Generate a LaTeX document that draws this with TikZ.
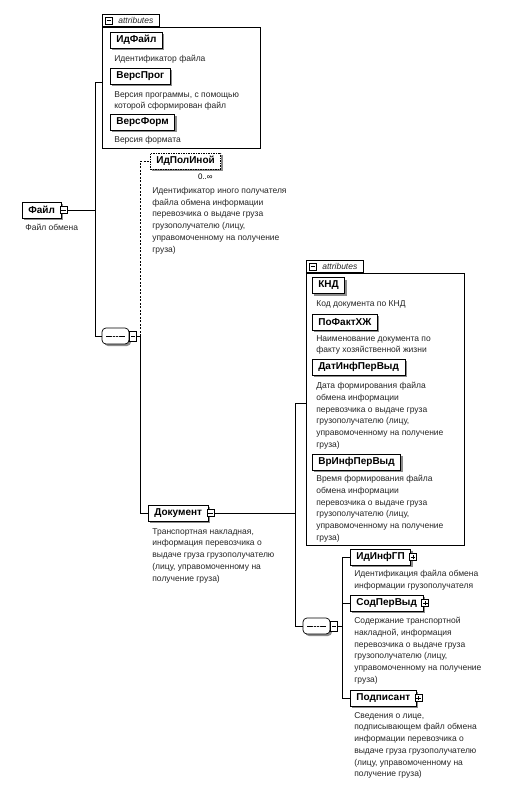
\documentclass[tikz,border=0pt]{standalone}
\usepackage{fontspec}
\setmainfont{Liberation Sans}
\usetikzlibrary{shadows}

\begin{document}
\begin{tikzpicture}[x=1pt, y=-1pt, line width=0.7pt]

\tikzstyle{elem}=[draw, fill=white, anchor=west, minimum height=16pt, inner xsep=6pt, inner ysep=0pt, font=\fontsize{10}{11}\selectfont\bfseries, drop shadow={shadow xshift=2pt, shadow yshift=-2pt, fill=black!45, opacity=1}]
\tikzstyle{optelem}=[elem, dash pattern=on 1.5pt off 1pt]
\tikzstyle{descr}=[anchor=north west, align=left, inner sep=0pt, text=black!85, font=\fontsize{8.5}{11.7}\selectfont]
\tikzstyle{minus}=[draw, fill=white, minimum size=7pt, inner sep=0pt, line width=0.5pt, path picture={\draw[line width=0.5pt] ([xshift=1.2pt]path picture bounding box.west) -- ([xshift=-1.2pt]path picture bounding box.east);}]
\tikzstyle{plus}=[minus, path picture={\draw[line width=0.5pt] ([xshift=1.2pt]path picture bounding box.west) -- ([xshift=-1.2pt]path picture bounding box.east) ([yshift=1.2pt]path picture bounding box.south) -- ([yshift=-1.2pt]path picture bounding box.north);}]
\tikzstyle{seqicon}=[minus, minimum width=7pt, minimum height=10pt]
\tikzstyle{seq}=[draw, fill=white, rounded corners=4pt, minimum width=27pt, minimum height=16pt, inner sep=0pt, drop shadow={shadow xshift=2pt, shadow yshift=-2pt, fill=black!45, opacity=1}, path picture={\draw ([xshift=4pt]path picture bounding box.west) -- ([xshift=-4pt]path picture bounding box.east); \foreach \d in {-3,0,3} \fill ([xshift=\d pt]path picture bounding box.center) circle (0.9pt);}]
\tikzstyle{attrbox}=[draw, fill=white, anchor=north west, minimum width=158pt, inner sep=0pt]
\tikzstyle{attrtab}=[draw, fill=white, anchor=south west, minimum width=57pt, minimum height=12pt, inner xsep=2pt, inner ysep=0pt, text=black!85, font=\fontsize{8.5}{9}\selectfont\itshape]

\path[fill=white, use as bounding box] (0,0) rectangle (514,790);

% root element
\draw (22,210) node[elem] (file) {Файл}
      (25,224) node[descr] (filedescr) {Файл обмена};
\node[minus] (fileicon) at ([xshift=2pt]file.east) {};
\draw[line width=1.4pt] ([xshift=0.5pt]file.south west) -- ([xshift=0.5pt]file.north west);

% attributes of Файл
\node[attrbox, minimum height=121pt] (attr1) at (102,27) {};
\node[attrtab] (attr1tab) at (attr1.north west) {\hspace*{10pt}attributes};
\node[minus] (attr1icon) at ([xshift=7pt]attr1tab.west) {};
\draw (110,40)  node[elem] (idfile) {ИдФайл}
      (114,55)  node[descr] (idfiledescr) {Идентификатор файла}
      (110,76)  node[elem] (versprog) {ВерсПрог}
      (114,91)  node[descr] (versprogdescr) {Версия программы, с помощью\\которой сформирован файл}
      (110,122) node[elem] (versform) {ВерсФорм}
      (114,136) node[descr] (versformdescr) {Версия формата};

% sequence of Файл
\node[seq] (seq1) at (115.5,336) {};
\node[seqicon, anchor=west] (seq1icon) at (seq1.east) {};

\draw (150,161) node[optelem] (idpol) {ИдПолИной}
      (213,177) node[anchor=east, inner sep=0pt, font=\fontsize{8}{9}\selectfont] (idpolmult) {0..∞}
      (152,187) node[descr] (idpoldescr) {Идентификатор иного получателя\\файла обмена информации\\перевозчика о выдаче груза\\грузополучателю (лицу,\\управомоченному на получение\\груза)};

\draw (148,513) node[elem] (doc) {Документ}
      (152,528) node[descr] (docdescr) {Транспортная накладная,\\информация перевозчика о\\выдаче груза грузополучателю\\(лицу, управомоченному на\\получение груза)};
\node[minus] (docicon) at ([xshift=2pt]doc.east) {};

% attributes of Документ
\node[attrbox, minimum height=272pt] (attr2) at (306,273) {};
\node[attrtab] (attr2tab) at (attr2.north west) {\hspace*{10pt}attributes};
\node[minus] (attr2icon) at ([xshift=7pt]attr2tab.west) {};
\draw (312,285.5) node[elem] (knd) {КНД}
      (316,300) node[descr] (knddescr) {Код документа по КНД}
      (312,322) node[elem] (pofakt) {ПоФактХЖ}
      (316,335) node[descr] (pofaktdescr) {Наименование документа по\\факту хозяйственной жизни}
      (312,367) node[elem] (datinf) {ДатИнфПерВыд}
      (316,382) node[descr] (datinfdescr) {Дата формирования файла\\обмена информации\\перевозчика о выдаче груза\\грузополучателю (лицу,\\управомоченному на получение\\груза)}
      (312,462) node[elem] (vrinf) {ВрИнфПерВыд}
      (316,475) node[descr] (vrinfdescr) {Время формирования файла\\обмена информации\\перевозчика о выдаче груза\\грузополучателю (лицу,\\управомоченному на получение\\груза)};

% sequence of Документ
\node[seq] (seq2) at (316.5,626) {};
\node[seqicon, anchor=west] (seq2icon) at (seq2.east) {};

\draw (350,557) node[elem] (idinf) {ИдИнфГП}
      (354,570) node[descr] (idinfdescr) {Идентификация файла обмена\\информации грузополучателя}
      (350,603) node[elem] (sod) {СодПерВыд}
      (354,617) node[descr] (soddescr) {Содержание транспортной\\накладной, информация\\перевозчика о выдаче груза\\грузополучателю (лицу,\\управомоченному на получение\\груза)}
      (350,698) node[elem] (podp) {Подписант}
      (354,712) node[descr] (podpdescr) {Сведения о лице,\\подписывающем файл обмена\\информации перевозчика о\\выдаче груза грузополучателю\\(лицу, управомоченному на\\получение груза)};
\node[plus] (idinficon) at ([xshift=2pt]idinf.east) {};
\node[plus] (sodicon) at ([xshift=2pt]sod.east) {};
\node[plus] (podpicon) at ([xshift=2pt]podp.east) {};

% connectors
\coordinate (t1top) at (95,82);
\coordinate (t2) at (140,336);
\coordinate (t3top) at (295,403);
\coordinate (t4) at (342,626);

\draw (fileicon.east) -- (fileicon.east -| t1top);
\draw (t1top -| attr1.west) -- (t1top) -- (t1top |- seq1.west) -- (seq1.west);
\draw (seq1icon.east) -- (t2);
\draw[dash pattern=on 2pt off 1.5pt] (t2) -- (t2 |- idpol.west) -- (idpol.west);
\draw (t2) -- (t2 |- doc.west) -- (doc.west);
\draw (docicon.east) -- (docicon.east -| t3top);
\draw (t3top -| attr2.west) -- (t3top) -- (t3top |- seq2.west) -- (seq2.west);
\draw (seq2icon.east) -- (t4);
\draw (idinf.west) -- (idinf.west -| t4) -- (podp.west -| t4) -- (podp.west);
\draw (sod.west -| t4) -- (sod.west);

\end{tikzpicture}
\end{document}
